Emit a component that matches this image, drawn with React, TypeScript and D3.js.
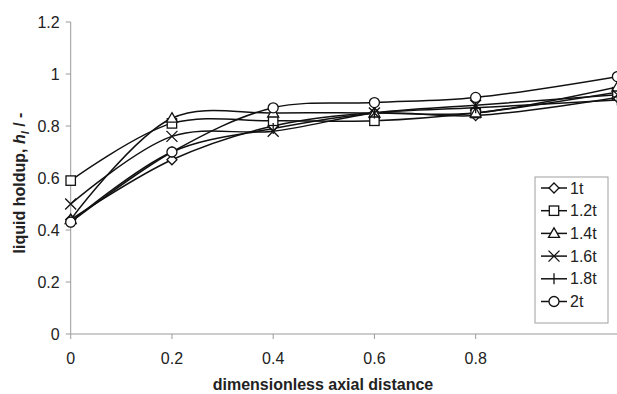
import React from "react";
import * as d3 from "d3";

const xValues = [0, 0.2, 0.4, 0.6, 0.8, 1.08];
const seriesNames = ["1t", "1.2t", "1.4t", "1.6t", "1.8t", "2t"];
const s1t = [0.44, 0.67, 0.80, 0.85, 0.84, 0.91];
const s12t = [0.59, 0.81, 0.82, 0.82, 0.85, 0.93];
const s14t = [0.44, 0.83, 0.85, 0.85, 0.85, 0.95];
const s16t = [0.50, 0.76, 0.78, 0.85, 0.88, 0.92];
const s18t = [0.43, 0.70, 0.79, 0.85, 0.87, 0.90];
const s2t = [0.43, 0.70, 0.87, 0.89, 0.91, 0.99];
const seriesValues = [s1t, s12t, s14t, s16t, s18t, s2t];
const markers = ["diamond", "square", "triangle", "x", "plus", "circle"];
const xTicks = [0, 0.2, 0.4, 0.6, 0.8];
const yTicks = [0, 0.2, 0.4, 0.6, 0.8, 1, 1.2];

function Marker({ type, cx, cy }: { type: string; cx: number; cy: number }) {
  const st = { fill: "white", stroke: "#111", strokeWidth: 1.3 };
  const r = 5;
  switch (type) {
    case "diamond":
      return <path d={`M${cx},${cy - r}L${cx + r},${cy}L${cx},${cy + r}L${cx - r},${cy}Z`} {...st} />;
    case "square":
      return <rect x={cx - 4.7} y={cy - 4.7} width={9.4} height={9.4} {...st} />;
    case "triangle":
      return <path d={`M${cx},${cy - 5.5}L${cx + 5.5},${cy + 4}L${cx - 5.5},${cy + 4}Z`} {...st} />;
    case "x":
      return <path d={`M${cx - 5.5},${cy - 5.5}L${cx + 5.5},${cy + 5.5}M${cx - 5.5},${cy + 5.5}L${cx + 5.5},${cy - 5.5}`} {...st} fill="none" />;
    case "plus":
      return <path d={`M${cx},${cy - 5.5}L${cx},${cy + 5.5}`} {...st} fill="none" />;
    case "circle":
      return <circle cx={cx} cy={cy} r={5} {...st} />;
  }
  return null;
}

export default function App() {
  const W = 617, H = 394;
  const x = d3.scaleLinear().domain([0, 1]).range([70.7, 576.9]);
  const y = d3.scaleLinear().domain([0, 1.2]).range([334, 22]);
  const line = d3.line<[number, number]>()
    .x(d => x(d[0])).y(d => y(d[1]))
    .curve(d3.curveCatmullRom.alpha(0.5));
  const font = "'Liberation Sans', Arial, sans-serif";
  const axisColor = "#9a9a9a";
  const legX = 535, legY = 177, legW = 73, legH = 146;
  return (
    <svg width={W} height={H} style={{ position: "absolute", left: 0, top: 0 }} fontFamily={font}>
      <rect width={W} height={H} fill="white" />
      <line x1={x(0)} x2={x(0)} y1={y(1.2)} y2={y(0)} stroke={axisColor} />
      <line x1={x(0)} x2={W} y1={y(0)} y2={y(0)} stroke={axisColor} />
      {yTicks.map(t => (
        <g key={"y" + t}>
          <line x1={x(0) - 5} x2={x(0)} y1={y(t)} y2={y(t)} stroke={axisColor} />
          <text x={x(0) - 11} y={y(t)} dy="0.35em" textAnchor="end" fontSize={16} fill="#222">{d3.format("")(t)}</text>
        </g>
      ))}
      {xTicks.map(t => (
        <g key={"x" + t}>
          <line x1={x(t)} x2={x(t)} y1={y(0)} y2={y(0) + 5} stroke={axisColor} />
          <text x={x(t)} y={y(0) + 30} textAnchor="middle" fontSize={16} fill="#222">{d3.format("")(t)}</text>
        </g>
      ))}
      <text x={323} y={390} textAnchor="middle" fontSize={16} fontWeight="bold" fill="#222">dimensionless axial distance</text>
      <text transform={`translate(25,183) rotate(-90)`} textAnchor="middle" fontSize={16} fontWeight="bold" fill="#222">
        liquid holdup, <tspan fontStyle="italic">h</tspan><tspan fontStyle="italic" fontSize={11} dy={4}>l</tspan><tspan dy={-4}> / -</tspan>
      </text>
      {seriesValues.map((vals, i) => (
        <path key={"l" + i} d={line(vals.map((v, j) => [xValues[j], v] as [number, number])) || ""} fill="none" stroke="#111" strokeWidth={1.5} />
      ))}
      {seriesValues.map((vals, i) => (
        <g key={"m" + i}>
          {vals.map((v, j) => <Marker key={j} type={markers[i]} cx={x(xValues[j])} cy={y(v)} />)}
        </g>
      ))}
      <rect x={legX} y={legY} width={legW} height={legH} fill="white" stroke="#a0a0a0" />
      {seriesNames.map((n, i) => {
        const cy = legY + 11 + i * 22.7;
        return (
          <g key={"lg" + i}>
            <line x1={legX + 6} x2={legX + 32} y1={cy} y2={cy} stroke="#111" strokeWidth={1.5} />
            <Marker type={markers[i]} cx={legX + 19} cy={cy} />
            <text x={legX + 35} y={cy} dy="0.35em" fontSize={16} fill="#222">{n}</text>
          </g>
        );
      })}
    </svg>
  );
}
